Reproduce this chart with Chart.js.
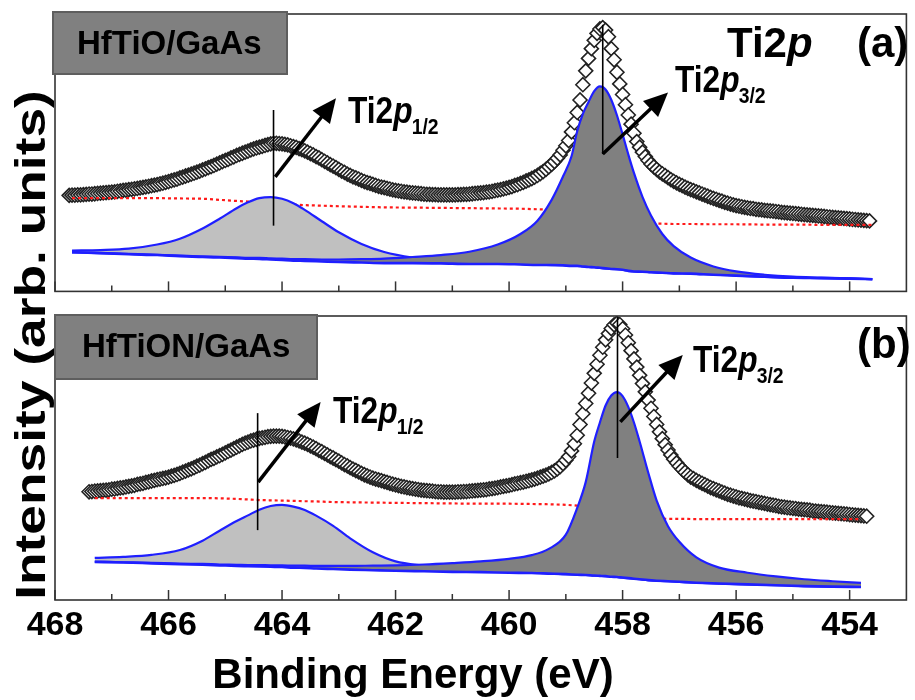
<!DOCTYPE html>
<html lang="en">
<head>
<meta charset="UTF-8">
<title>Ti2p XPS spectra</title>
<script src="https://cdn.jsdelivr.net/npm/chart.js"></script>
<style>
  body { margin: 0; background: #fff; }
  #wrap { position: relative; width: 915px; height: 700px; }
  #wrap canvas { position: absolute; left: 0; top: 0; }
</style>
</head>
<body>
<div id="wrap">
  <canvas id="chartB" width="915" height="700"></canvas>
  <canvas id="chartA" width="915" height="300"></canvas>
</div>
<script>
// x tick labels (binding energy, eV) and minor tick positions
const tickVals = [468, 466, 464, 462, 460, 458, 456, 454];
const minorVals = [467, 465, 463, 461, 459, 457, 455];

// measured spectra, 0.05 eV steps (panel a starts at 467.75 eV, panel b at 467.40 eV)
const startA = 467.75;
const dataA = [
  34.6,34.7,34.7,34.8,34.8,34.9,35.0,35.1,35.1,35.2,
  35.3,35.4,35.5,35.6,35.7,35.8,35.9,36.1,36.2,36.4,
  36.5,36.7,36.8,37.0,37.1,37.3,37.5,37.7,37.9,38.1,
  38.3,38.5,38.8,39.0,39.3,39.6,39.9,40.2,40.5,40.9,
  41.2,41.6,41.9,42.3,42.6,43.0,43.4,43.8,44.2,44.6,
  45.0,45.4,45.9,46.3,46.8,47.2,47.6,48.1,48.5,49.0,
  49.4,49.8,50.2,50.6,51.0,51.4,51.7,52.0,52.3,52.6,
  52.9,53.2,53.4,53.4,53.3,53.2,53.0,52.8,52.5,52.2,
  51.9,51.5,51.1,50.7,50.2,49.7,49.2,48.6,48.1,47.5,
  46.9,46.3,45.7,45.2,44.6,44.0,43.4,42.9,42.3,41.8,
  41.3,40.9,40.5,40.0,39.6,39.2,38.9,38.6,38.2,37.9,
  37.6,37.4,37.1,36.9,36.6,36.4,36.2,36.1,35.9,35.8,
  35.6,35.5,35.4,35.3,35.2,35.1,35.0,35.0,34.9,34.9,
  34.8,34.8,34.8,34.8,34.8,34.8,34.8,34.9,34.9,35.0,
  35.0,35.1,35.2,35.3,35.4,35.5,35.6,35.8,35.9,36.1,
  36.3,36.5,36.7,37.0,37.2,37.5,37.8,38.2,38.5,38.9,
  39.3,39.8,40.2,40.7,41.2,41.8,42.5,43.2,44.0,44.9,
  45.8,46.8,48.0,49.2,50.9,52.5,54.4,57.5,60.8,64.5,
  69.0,74.5,79.5,84.0,87.5,90.5,93.0,94.6,95.1,94.2,
  91.8,87.5,83.5,79.0,74.8,71.0,67.3,63.6,60.3,57.0,
  54.0,52.0,50.2,48.6,47.2,45.9,44.9,44.0,43.1,42.4,
  41.7,41.0,40.3,39.7,39.1,38.6,38.1,37.6,37.1,36.7,
  36.3,35.9,35.5,35.1,34.7,34.3,33.9,33.5,33.2,32.8,
  32.5,32.1,31.8,31.5,31.2,30.9,30.7,30.5,30.3,30.1,
  29.9,29.8,29.6,29.5,29.4,29.2,29.1,29.0,28.9,28.8,
  28.7,28.5,28.4,28.3,28.2,28.1,28.0,27.9,27.8,27.7,
  27.6,27.5,27.4,27.3,27.2,27.1,27.0,26.9,26.8,26.7,
  26.6,26.5,26.4,26.3,26.2,26.1,26.0,25.9,25.8,25.7,
  25.6,25.5,25.4
];
const startB = 467.40;
const dataB = [
  38.1,38.2,38.3,38.4,38.5,38.6,38.7,38.8,39.0,39.1,
  39.3,39.5,39.6,39.8,40.0,40.2,40.4,40.7,40.9,41.1,
  41.4,41.6,41.9,42.1,42.4,42.6,42.8,43.0,43.3,43.6,
  43.9,44.2,44.6,45.0,45.4,45.8,46.2,46.6,47.1,47.5,
  48.0,48.5,49.0,49.5,49.9,50.4,50.8,51.3,51.8,52.3,
  52.8,53.3,53.8,54.3,54.8,55.2,55.6,56.0,56.3,56.6,
  56.9,57.1,57.3,57.5,57.6,57.7,57.7,57.7,57.6,57.4,
  57.2,57.0,56.7,56.4,56.0,55.6,55.2,54.8,54.3,53.8,
  53.3,52.7,52.2,51.6,51.1,50.5,50.0,49.4,48.9,48.3,
  47.7,47.2,46.6,46.1,45.6,45.1,44.6,44.1,43.7,43.3,
  42.9,42.6,42.3,42.0,41.7,41.4,41.1,40.8,40.5,40.3,
  40.0,39.8,39.6,39.4,39.2,39.0,38.9,38.7,38.6,38.5,
  38.4,38.3,38.2,38.1,38.1,38.0,38.0,38.0,38.0,38.0,
  38.1,38.1,38.2,38.2,38.3,38.4,38.5,38.6,38.7,38.8,
  38.9,39.1,39.2,39.4,39.6,39.8,40.0,40.2,40.4,40.6,
  40.9,41.1,41.3,41.5,41.8,42.0,42.3,42.6,42.9,43.3,
  43.6,44.0,44.4,44.9,45.5,46.2,47.0,48.0,49.2,50.5,
  52.5,55.0,58.0,61.8,65.6,69.2,72.8,76.4,79.8,83.0,
  86.2,89.0,91.6,93.8,95.6,96.9,97.5,97.0,95.5,93.3,
  90.6,87.8,84.9,82.0,79.1,76.2,73.3,70.4,67.5,64.6,
  61.8,59.2,56.8,54.7,52.8,51.1,49.6,48.3,47.1,46.0,
  45.0,44.1,43.3,42.7,42.1,41.6,41.1,40.6,40.1,39.6,
  39.2,38.8,38.4,38.0,37.6,37.2,36.9,36.6,36.3,36.0,
  35.8,35.5,35.3,35.0,34.8,34.6,34.4,34.2,34.0,33.8,
  33.6,33.4,33.2,33.0,32.8,32.7,32.5,32.4,32.3,32.2,
  32.0,31.9,31.8,31.7,31.6,31.4,31.3,31.2,31.1,31.0,
  30.9,30.8,30.7,30.6,30.5,30.4,30.3,30.2,30.1,30.0,
  29.9,29.8,29.7,29.6,29.5
];

// fitted curves (background, Ti2p1/2, Ti2p3/2, Shirley base) on their own energy grids
const fitEA = [467.7,467.2,466.7,466.2,465.8,465.4,465.1,464.8,464.6,464.4,
  464.2,464.0,463.8,463.6,463.3,463.0,462.6,462.2,461.7,461.2,
  460.7,460.2,459.8,459.5,459.25,459.05,458.9,458.8,458.7,458.6,
  458.5,458.4,458.3,458.2,458.1,458.0,457.9,457.8,457.65,457.5,
  457.3,457.1,456.8,456.4,456.0,455.5,455.0,454.5,454.0,453.6];
const bgA = [33.6,33.6,33.6,33.6,33.5,33.4,33.0,32.6,32.4,32.2,
  31.9,31.6,31.3,31.1,30.9,30.7,30.5,30.3,30.2,30.1,
  30.0,29.9,29.8,29.6,29.4,29.1,28.8,28.5,28.1,27.6,
  27.0,26.4,25.9,25.5,25.2,24.9,24.7,24.6,24.5,24.4,
  24.4,24.3,24.3,24.2,24.2,24.1,24.1,24.0,24.0,24.0];
const p12A = [14.7,14.9,15.4,16.9,19.0,22.7,26.2,30.0,32.1,33.6,
  34.0,33.4,31.8,29.4,25.3,21.3,17.1,14.2,12.2,11.2,
  10.5,10.2,9.9,9.6,9.5,9.4,9.2,9.2,9.0,8.8,
  8.7,8.5,8.3,8.1,8.0,7.8,7.4,7.2,7.1,6.9,
  6.7,6.5,6.4,6.0,5.7,5.3,4.9,4.8,4.6,4.4];
const p32A = [14.1,13.8,13.5,13.2,12.9,12.6,12.5,12.3,12.1,12.1,
  11.9,11.8,11.6,11.6,11.5,11.5,11.6,11.8,12.4,13.1,
  14.3,16.9,20.7,25.5,33.0,41.4,48.7,57.7,64.0,68.3,
  72.2,73.9,72.8,69.1,63.5,56.6,49.4,42.7,34.1,27.4,
  20.7,16.3,12.2,9.0,7.2,6.0,5.3,5.0,4.7,4.4];
const baseA = [14.1,13.8,13.4,13.1,12.7,12.4,12.2,12.0,11.8,11.7,
  11.5,11.3,11.1,11.0,10.8,10.6,10.4,10.2,10.2,10.1,
  9.9,9.9,9.7,9.5,9.5,9.4,9.2,9.2,9.0,8.8,
  8.7,8.5,8.3,8.1,8.0,7.8,7.4,7.2,7.1,6.9,
  6.7,6.5,6.4,6.0,5.7,5.3,4.9,4.8,4.6,4.4];

const fitEB = [467.3,466.8,466.3,465.8,465.4,465.1,464.8,464.6,464.4,464.2,
  464.0,463.8,463.6,463.4,463.1,462.8,462.4,462.0,461.5,461.0,
  460.5,460.0,459.6,459.3,459.0,458.8,458.65,458.5,458.4,458.3,
  458.2,458.1,458.0,457.9,457.8,457.7,457.55,457.4,457.2,457.0,
  456.7,456.3,455.8,455.3,454.8,454.3,453.8];
const bgB = [35.9,35.9,35.9,35.9,35.9,35.8,35.6,35.4,35.2,35.1,
  35.0,34.9,34.8,34.7,34.5,34.4,34.3,34.2,34.1,34.0,
  33.9,33.9,33.8,33.7,33.5,33.2,32.8,32.2,31.7,31.1,
  30.5,30.0,29.6,29.3,29.0,28.9,28.8,28.7,28.6,28.6,
  28.5,28.5,28.5,28.5,28.5,28.5,28.5];
const p12B = [14.8,15.2,15.9,17.6,20.9,24.4,27.8,29.8,31.8,33.1,
  33.5,32.9,31.7,29.7,26.1,21.7,16.8,13.6,12.1,11.1,
  10.5,10.0,9.7,9.3,9.1,8.9,8.8,8.6,8.5,8.4,
  8.2,8.1,7.9,7.7,7.5,7.3,7.0,6.8,6.6,6.4,
  6.1,5.8,5.5,5.2,4.9,4.7,4.6];
const p32B = [13.5,13.3,13.1,12.8,12.7,12.5,12.4,12.3,12.3,12.2,
  12.2,12.1,12.1,12.0,12.0,12.0,12.1,12.2,12.5,13.0,
  13.6,14.5,15.8,18.0,23.0,32.4,41.5,55.8,62.5,68.5,
  72.0,73.2,71.8,68.0,62.5,55.8,45.0,35.0,26.0,20.5,
  15.0,11.4,9.6,8.3,7.3,6.6,6.0];
const baseB = [13.4,13.2,12.9,12.6,12.4,12.2,12.0,11.9,11.8,11.7,
  11.6,11.4,11.3,11.1,10.9,10.7,10.5,10.3,10.1,9.9,
  9.8,9.6,9.5,9.3,9.1,8.9,8.8,8.6,8.5,8.4,
  8.2,8.1,7.9,7.7,7.5,7.3,7.0,6.8,6.6,6.4,
  6.1,5.8,5.5,5.2,4.9,4.7,4.6];

// peak markers: [energy, y from, y to] and arrows: [x0, y0, x1, y1] in data units
const markersA = [[464.15, 23.7, 65.4], [458.35, 49.5, 96.1]];
const arrowsA = [[464.12, 41.3, 463.05, 69.6], [458.35, 49.5, 457.20, 71.7]];
const markersB = [[464.43, 24.6, 65.8], [458.09, 50.0, 99.6]];
const arrowsB = [[464.42, 41.5, 463.32, 69.7], [458.04, 62.7, 456.94, 86.3]];

const FONT = "'Liberation Sans', Arial, Helvetica, sans-serif";
const BLUE = '#1f1fff';

function grid(start, n) {
  const out = [];
  for (let i = 0; i < n; i++) out.push(+(start - i * 0.05).toFixed(2));
  return out;
}
function pts(xs, ys) {
  return xs.map((x, i) => ({ x: x, y: ys[i] }));
}

function panelSets(eData, data, fitE, bg, p12, p32, base) {
  return [
    { data: pts(eData, data), showLine: false, pointStyle: 'rectRot', pointRadius: 7,
      pointBorderWidth: 1.6, pointBorderColor: '#222', pointBackgroundColor: '#ffffff', order: 5 },
    { data: pts(fitE, bg), borderColor: '#ff1a1a', borderWidth: 2.2, borderDash: [3, 3],
      pointRadius: 0, fill: false, cubicInterpolationMode: 'monotone', order: 4 },
    { data: pts(fitE, p12), borderColor: BLUE, borderWidth: 2.2, pointRadius: 0,
      fill: 4, backgroundColor: '#c0c0c0', cubicInterpolationMode: 'monotone', order: 3 },
    { data: pts(fitE, p32), borderColor: BLUE, borderWidth: 2.2, pointRadius: 0,
      fill: 4, backgroundColor: '#808080', cubicInterpolationMode: 'monotone', order: 2 },
    { data: pts(fitE, base), borderColor: BLUE, borderWidth: 2.6, pointRadius: 0,
      fill: false, cubicInterpolationMode: 'monotone', order: 1 }
  ];
}

// "Ti2p" with italic p and optional subscript
function drawTi(ctx, x, y, size, sub, squeeze) {
  ctx.save();
  ctx.translate(x, y);
  ctx.scale(squeeze, 1);
  ctx.fillStyle = '#000';
  ctx.textAlign = 'left';
  ctx.textBaseline = 'alphabetic';
  ctx.font = 'bold ' + size + 'px ' + FONT;
  ctx.fillText('Ti2', 0, 0);
  let w = ctx.measureText('Ti2').width;
  ctx.font = 'italic bold ' + size + 'px ' + FONT;
  ctx.fillText('p', w, 0);
  w += ctx.measureText('p').width;
  if (sub) {
    ctx.font = 'bold ' + Math.round(size * 0.6) + 'px ' + FONT;
    ctx.fillText(sub, w - 1, size * 0.3);
  }
  ctx.restore();
}

function drawArrow(ctx, xs, ys, a) {
  const x0 = xs.getPixelForValue(a[0]), y0 = ys.getPixelForValue(a[1]);
  const x1 = xs.getPixelForValue(a[2]), y1 = ys.getPixelForValue(a[3]);
  const ang = Math.atan2(y1 - y0, x1 - x0), hl = 24, hw = 11;
  const bx = x1 - hl * Math.cos(ang), by = y1 - hl * Math.sin(ang);
  ctx.strokeStyle = '#000';
  ctx.lineWidth = 3.5;
  ctx.beginPath();
  ctx.moveTo(x0, y0);
  ctx.lineTo(bx + 2 * Math.cos(ang), by + 2 * Math.sin(ang));
  ctx.stroke();
  ctx.fillStyle = '#000';
  ctx.beginPath();
  ctx.moveTo(x1, y1);
  ctx.lineTo(bx + hw * Math.sin(ang), by - hw * Math.cos(ang));
  ctx.lineTo(bx - hw * Math.sin(ang), by + hw * Math.cos(ang));
  ctx.closePath();
  ctx.fill();
}

function makeDeco(cfg) {
  return {
    id: 'deco' + cfg.tag,
    afterDraw(chart) {
      const ctx = chart.ctx, ca = chart.chartArea;
      const xs = chart.scales.x, ys = chart.scales.y;
      ctx.save();
      // peak position markers
      ctx.strokeStyle = '#000';
      ctx.lineWidth = 1.6;
      cfg.markers.forEach(m => {
        const px = xs.getPixelForValue(m[0]);
        ctx.beginPath();
        ctx.moveTo(px, ys.getPixelForValue(m[1]));
        ctx.lineTo(px, ys.getPixelForValue(m[2]));
        ctx.stroke();
      });
      cfg.arrows.forEach(a => drawArrow(ctx, xs, ys, a));
      // frame and inward ticks
      ctx.strokeStyle = '#333';
      ctx.lineWidth = 1.6;
      ctx.strokeRect(ca.left, ca.top, ca.right - ca.left, ca.bottom - ca.top);
      ctx.lineWidth = 1.5;
      tickVals.concat(minorVals).forEach(v => {
        const px = xs.getPixelForValue(v);
        const len = tickVals.includes(v) ? 10 : 6;
        ctx.beginPath();
        ctx.moveTo(px, ca.bottom);
        ctx.lineTo(px, ca.bottom - len);
        ctx.stroke();
      });
      // sample tag box
      const b = cfg.box;
      ctx.fillStyle = '#808080';
      ctx.fillRect(ca.left + b[0], ca.top + b[1], b[2], b[3]);
      ctx.strokeStyle = '#5e5e5e';
      ctx.lineWidth = 2;
      ctx.strokeRect(ca.left + b[0], ca.top + b[1], b[2], b[3]);
      ctx.fillStyle = '#000';
      ctx.font = 'bold 33px ' + FONT;
      ctx.textAlign = 'left';
      ctx.textBaseline = 'alphabetic';
      ctx.fillText(cfg.sample, ca.left + b[4], ca.top + b[5]);
      // peak labels
      cfg.labels.forEach(l => drawTi(ctx, ca.left + l[0], ca.top + l[1], l[2], l[3], l[4]));
      ctx.fillStyle = '#000';
      ctx.font = 'bold 42px ' + FONT;
      ctx.textAlign = 'left';
      ctx.fillText(cfg.tag, ca.left + cfg.tagPos[0], ca.top + cfg.tagPos[1]);
      if (cfg.titles) {
        ctx.font = 'bold 42px ' + FONT;
        ctx.textAlign = 'center';
        ctx.fillText('Binding Energy (eV)', 413, 688);
        ctx.save();
        ctx.translate(45, 345);
        ctx.rotate(-Math.PI / 2);
        ctx.scale(1.27, 1);
        ctx.fillText('Intensity (arb. units)', 0, 0);
        ctx.restore();
      }
      ctx.restore();
    }
  };
}

function yScale() {
  return { type: 'linear', min: 0, max: 100, display: false };
}

const xA = { type: 'linear', reverse: true, min: 453, max: 468, display: false };
const xB = {
  type: 'linear', reverse: true, min: 453, max: 468,
  afterBuildTicks: s => { s.ticks = tickVals.map(v => ({ value: v })); },
  afterFit: s => { s.height = 100; },
  grid: { display: false },
  border: { display: false },
  ticks: {
    autoSkip: false, maxRotation: 0, padding: -3, color: '#000',
    font: { family: FONT, size: 34, weight: 'bold' },
    callback: v => String(v)
  }
};

const common = {
  responsive: false,
  animation: false,
  devicePixelRatio: 1,
  events: [],
  plugins: { legend: { display: false }, tooltip: { enabled: false } }
};

new Chart(document.getElementById('chartA'), {
  type: 'line',
  data: { datasets: panelSets(grid(startA, dataA.length), dataA, fitEA, bgA, p12A, p32A, baseA) },
  options: Object.assign({}, common, {
    layout: { padding: { left: 55, right: 2, top: 14, bottom: 3 } },
    scales: { x: xA, y: yScale() }
  }),
  plugins: [makeDeco({
    tag: '(a)', tagPos: [802, 43], sample: 'HfTiO/GaAs',
    box: [-2, -2, 234, 62, 22, 40],
    markers: markersA, arrows: arrowsA,
    labels: [[672, 43, 42, '', 1], [620, 78, 36, '3/2', 0.88], [293, 109, 36, '1/2', 0.88]],
    titles: false
  })]
});

new Chart(document.getElementById('chartB'), {
  type: 'line',
  data: { datasets: panelSets(grid(startB, dataB.length), dataB, fitEB, bgB, p12B, p32B, baseB) },
  options: Object.assign({}, common, {
    layout: { padding: { left: 55, right: 2, top: 316, bottom: 0 } },
    scales: { x: xB, y: yScale() }
  }),
  plugins: [makeDeco({
    tag: '(b)', tagPos: [802, 42], sample: 'HfTiON/GaAs',
    box: [0, -1, 262, 64, 27, 41],
    markers: markersB, arrows: arrowsB,
    labels: [[638, 56, 36, '3/2', 0.88], [278, 107, 36, '1/2', 0.88]],
    titles: true
  })]
});
</script>
</body>
</html>
